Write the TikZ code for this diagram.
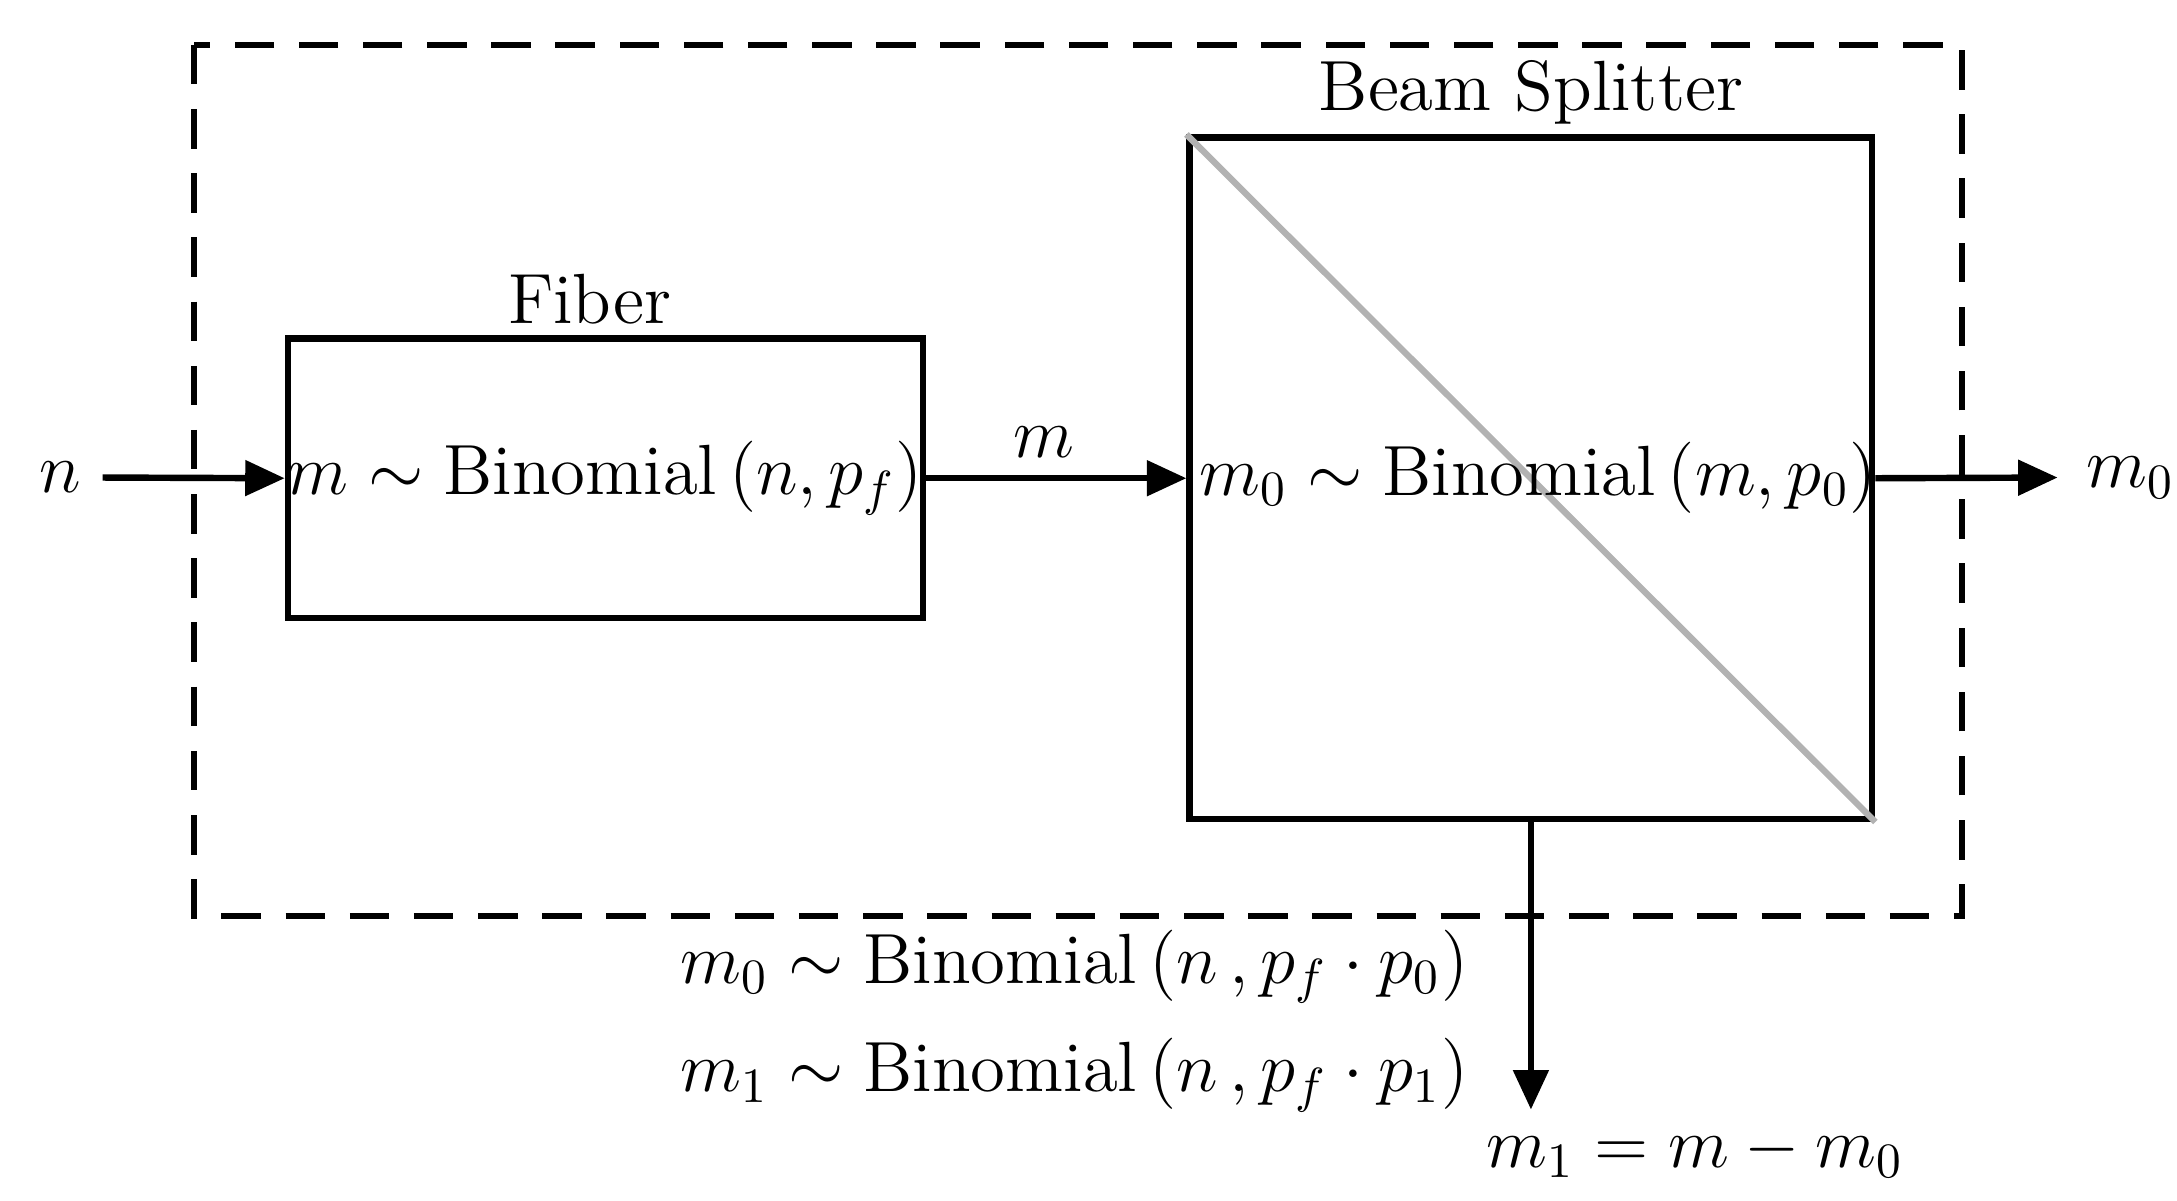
\documentclass[tikz,border=0pt]{standalone}
\usepackage{amsmath}
\usetikzlibrary{arrows.meta}
\tikzset{
  blk/.style={draw, line width=1.3pt, inner sep=0pt},
  flow/.style={line width=1.3pt, -{Triangle[length=8pt,width=7pt]}},
  lbl/.style={font=\Large}
}
\begin{document}
\begin{tikzpicture}
          \useasboundingbox (0,0) rectangle (15.5,-8.55);
          \draw[line width=1.3pt, dash pattern=on 8pt off 5pt] (1.38,-0.32) rectangle (13.97,-6.52);
          \node[blk, minimum width=4.52cm, minimum height=1.99cm] (fib) at (4.31,-3.405) {};
          \node[blk, minimum width=4.86cm, minimum height=4.85cm] (bs) at (10.9,-3.405) {};
          \draw[gray!60, line width=1.3pt] (bs.north west) -- (bs.south east);
          \node[lbl] at (fib.center) {$m \sim \text{Binomial}\,(n,p_f)$};
          \node[lbl] at (10.95,-3.4) {$m_0 \sim \text{Binomial}\,(m,p_0)$};
          \node[lbl] (fiblab) at (4.2,-2.13) {Fiber};
          \node[lbl] (bslab) at (10.9,-0.66) {Beam Splitter};
          \node[lbl] (n) at (0.43,-3.4) {$n$};
          \node[lbl] (m) at (7.43,-3.15) {$m$};
          \node[lbl] (mo) at (15.17,-3.4) {$m_0$};
          \node[lbl] (mi) at (12.07,-8.2) {$m_1 = m - m_0$};
          \coordinate (in) at (0.73,-3.4);
          \coordinate (out) at (14.65,-3.4);
          \coordinate (down) at (10.9,-7.9);
          \node[lbl, align=right] (res) at (7.65,-7.27) {$m_0 \sim \text{Binomial}\,(n\,,p_f\cdot p_0)$\\[4pt]$m_1 \sim \text{Binomial}\,(n\,,p_f\cdot p_1)$};

          \draw[flow] (in) -- (fib.west);
          \draw[flow] (fib.east) -- (bs.west);
          \draw[flow] (bs.east) -- (out);
          \draw[flow] (bs.south) -- (down);
        \end{tikzpicture}
\end{document}
